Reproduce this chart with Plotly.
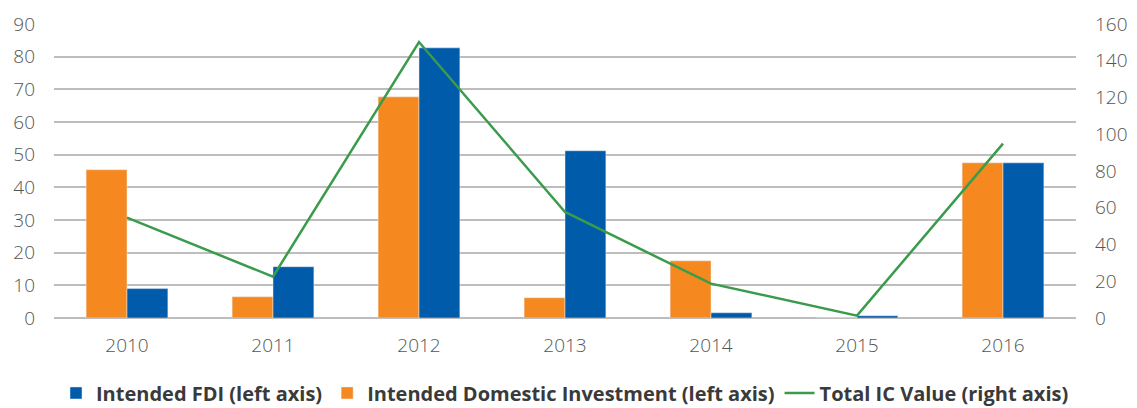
import plotly.graph_objects as go

years = ["2010", "2011", "2012", "2013", "2014", "2015", "2016"]
fdi = [9.0, 15.7, 82.7, 51.2, 1.6, 0.7, 47.5]
domestic = [45.4, 6.5, 67.7, 6.2, 17.5, 0, 47.5]
ic_value = [54.6, 22.5, 150.2, 57.7, 18.7, 1.3, 94.9]

font_family = "Open Sans, sans-serif"
tick_font = dict(family=font_family, size=19, color="#555555", weight=300)

fig = go.Figure()

fig.add_trace(go.Bar(x=years, y=domestic, name="Intended Domestic Investment (left axis)",
                     marker_color="#F5891F", legendrank=2))
fig.add_trace(go.Bar(x=years, y=fdi, name="Intended FDI (left axis)",
                     marker_color="#005BAA", legendrank=1))
fig.add_trace(go.Scatter(x=years, y=ic_value, name="Total IC Value (right axis)",
                         mode="lines", line=dict(color="#3A9B4C", width=2.5),
                         yaxis="y2", legendrank=3))

# page body adds an 8px offset, so the figure is drawn slightly smaller
fig.update_layout(
    width=1129, height=400,
    margin=dict(l=46, r=61, t=16, b=90, autoexpand=False),
    plot_bgcolor="white", paper_bgcolor="white",
    barmode="group", bargap=0.44, bargroupgap=0,
    xaxis=dict(tickfont=tick_font, showgrid=False, ticklabelstandoff=14,
               showline=False, automargin=False),
    yaxis=dict(range=[0, 90], dtick=10, tickfont=tick_font, gridcolor="#BDBDBD",
               gridwidth=1.5, zeroline=True, zerolinecolor="#BDBDBD", zerolinewidth=1.5,
               ticklabelstandoff=18, automargin=False),
    yaxis2=dict(range=[0, 160], dtick=20, overlaying="y", side="right",
                tickfont=tick_font, showgrid=False, zeroline=False,
                ticklabelstandoff=18, automargin=False),
    legend=dict(orientation="h", x=0.5, xanchor="center", y=-0.255, yanchor="middle",
                font=dict(family=font_family, size=20, color="#3A3A3A", weight="bold"),
                traceorder="normal", itemwidth=30),
    showlegend=True,
)

fig.write_html("out.html")
